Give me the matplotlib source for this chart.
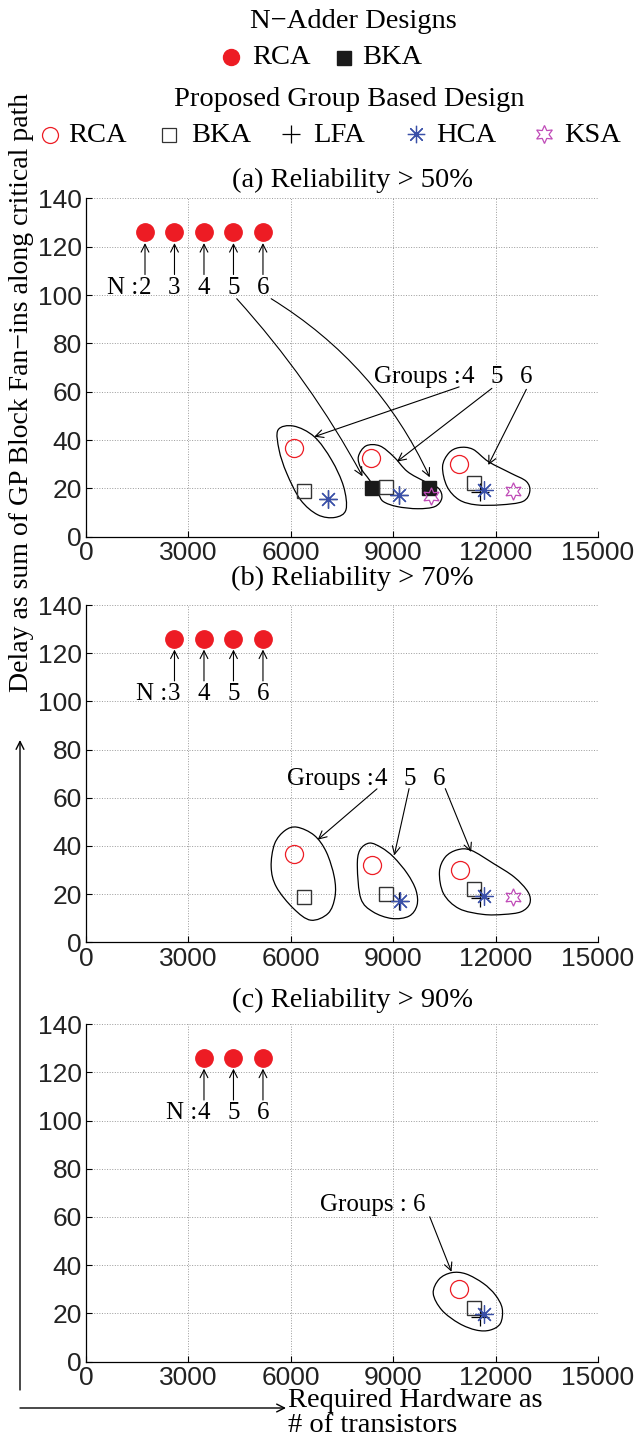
import numpy as np
import matplotlib
matplotlib.use("Agg")
from matplotlib import pyplot as plt
from matplotlib.path import Path
from matplotlib.patches import PathPatch

serif = "Liberation Serif"
sans = "Liberation Sans"
red = "#ed1c24"
blue = "#3a50a8"
mag = "#c04cb8"

# ---- (a) Reliability > 50% ----
nrca_n_a = ["2", "3", "4", "5", "6"]
nrca_x_a = [1728, 2592, 3456, 4320, 5184]
nrca_y_a = [126, 126, 126, 126, 126]
nbka_x_a = [8384, 10056]
nbka_y_a = [20, 20]
grca_x_a = [6095, 8360, 10930]
grca_y_a = [36.8, 32.5, 30.0]
gbka_x_a = [6375, 8780, 11355]
gbka_y_a = [19.0, 20.6, 22.2]
glfa_x_a = [7090, 9165, 11535]
glfa_y_a = [15.6, 17.2, 18.7]
ghca_x_a = [7090, 9165, 11660]
ghca_y_a = [15.6, 17.2, 19.4]
gksa_x_a = [10120, 12515]
gksa_y_a = [16.9, 18.8]

# ---- (b) Reliability > 70% ----
nrca_n_b = ["3", "4", "5", "6"]
nrca_x_b = [2592, 3456, 4320, 5184]
nrca_y_b = [126, 126, 126, 126]
grca_x_b = [6100, 8370, 10945]
grca_y_b = [36.6, 32.2, 29.9]
gbka_x_b = [6385, 8785, 11370]
gbka_y_b = [18.7, 20.2, 22.0]
glfa_x_b = [9165, 11535]
glfa_y_b = [17.0, 18.4]
ghca_x_b = [9190, 11660]
ghca_y_b = [17.2, 19.3]
gksa_x_b = [12515]
gksa_y_b = [18.9]

# ---- (c) Reliability > 90% ----
nrca_n_c = ["4", "5", "6"]
nrca_x_c = [3456, 4320, 5184]
nrca_y_c = [126, 126, 126]
grca_x_c = [10930]
grca_y_c = [30.1]
gbka_x_c = [11355]
gbka_y_c = [22.1]
glfa_x_c = [11535]
glfa_y_c = [18.6]
ghca_x_c = [11660]
ghca_y_c = [19.8]

# hand drawn group outlines (data coords)
blobs_a = [
    [(5626, 44.2), (6081, 45.8), (6687, 41.4), (7192, 31.8), (7545, 20.8), (7616, 11.2),
     (7293, 8.0), (6788, 9.1), (6283, 15.3), (5879, 26.3), (5657, 35.9)],
    [(7980, 33.2), (8202, 37.6), (8606, 37.6), (9010, 33.2), (9414, 27.0), (9919, 22.9),
     (10323, 20.1), (10424, 16.0), (10222, 12.5), (9717, 11.6), (9111, 12.5), (8707, 14.6),
     (8556, 18.0), (8303, 23.5), (8051, 28.4)],
    [(10445, 29.0), (10626, 34.6), (10929, 36.9), (11333, 36.2), (11788, 31.1), (12444, 26.3),
     (12899, 22.9), (13000, 18.7), (12798, 14.6), (12141, 13.2), (11434, 13.2), (10929, 15.3),
     (10576, 20.8)],
]
blobs_b = [
    [(5424, 31.3), (5525, 40.9), (5828, 46.4), (6182, 47.8), (6687, 44.4), (7040, 37.5),
     (7273, 27.1), (7293, 18.9), (7091, 12.0), (6586, 9.2), (6081, 14.0), (5576, 23.0)],
    [(7949, 31.3), (8020, 38.2), (8303, 41.2), (8657, 39.3), (9010, 35.4), (9414, 28.5),
     (9667, 21.6), (9697, 15.4), (9465, 10.9), (8960, 9.9), (8404, 12.7), (8051, 18.2)],
    [(10354, 29.2), (10525, 35.4), (10879, 38.4), (11283, 38.2), (11939, 32.7), (12545, 27.1),
     (12949, 20.9), (13000, 16.1), (12747, 12.7), (12242, 11.6), (11636, 11.6), (10929, 14.0),
     (10475, 20.2)],
]
blobs_c = [
    [(10172, 28.3), (10343, 34.2), (10707, 36.9), (11131, 36.4), (11636, 32.5), (11990, 27.7),
     (12192, 22.1), (12141, 15.9), (11838, 13.1), (11434, 13.1), (10929, 15.9), (10424, 21.4)],
]

W, H = 639, 1446
fig = plt.figure(figsize=(W / 100, H / 100), dpi=100)

# overlay in pixel coords for the shared texts
ov = fig.add_axes([0, 0, 1, 1])
ov.set_xlim(0, W)
ov.set_ylim(H, 0)
ov.axis("off")

fs = 20.5
ov.text(353, 22, "N\u2212Adder Designs", ha="center", va="center", fontsize=fs, family=serif)
ov.plot(231, 57, "o", ms=11.5, color=red, mec=red)
ov.text(252, 57, "RCA", ha="left", va="center", fontsize=fs, family=serif)
ov.plot(344, 58, "s", ms=9.5, color="#1a1a1a", mec="#1a1a1a")
ov.text(362, 57, "BKA", ha="left", va="center", fontsize=fs, family=serif)
ov.text(349, 99, "Proposed Group Based Design", ha="center", va="center", fontsize=fs, family=serif)
ov.plot(50, 135, "o", ms=11.5, mfc="none", mec=red, mew=0.9)
ov.text(68, 135, "RCA", ha="left", va="center", fontsize=fs, family=serif)
ov.plot(169, 135, "s", ms=9.5, mfc="none", mec="#333333", mew=0.9)
ov.text(191, 135, "BKA", ha="left", va="center", fontsize=fs, family=serif)
ov.plot(291, 134, "+", ms=13, color="k", mew=0.9)
ov.text(313, 135, "LFA", ha="left", va="center", fontsize=fs, family=serif)
ov.plot(416, 134, marker=(8, 2, 0), ms=12.5, color=blue, mew=0.9)
ov.text(436, 135, "HCA", ha="left", va="center", fontsize=fs, family=serif)
ov.plot(544, 134, marker=(6, 1, 0), ms=13, mfc="none", mec=mag, mew=0.9)
ov.text(564, 135, "KSA", ha="left", va="center", fontsize=fs, family=serif)

ov.text(22, 393, "Delay as sum of GP Block Fan\u2212ins along critical path", rotation=90,
        ha="center", va="center", fontsize=20, family=serif)
ov.annotate("", xy=(20, 740), xytext=(20, 1390),
            arrowprops=dict(arrowstyle="->", lw=1.0, color="k", shrinkA=0, shrinkB=0, mutation_scale=14))
ov.annotate("", xy=(286, 1408), xytext=(20, 1408),
            arrowprops=dict(arrowstyle="->", lw=1.0, color="k", shrinkA=0, shrinkB=0, mutation_scale=14))
ov.text(288, 1413, "Required Hardware as\n# of transistors", ha="left", va="center",
        fontsize=fs, family=serif, linespacing=1.05)

titles = ["(a) Reliability > 50%", "(b) Reliability > 70%", "(c) Reliability > 90%"]
title_y = [180, 578, 1000]
for t, y in zip(titles, title_y):
    ov.text(352, y, t, ha="center", va="center", fontsize=fs, family=serif)


def blob(ax, pts):
    p = np.array(pts, float)
    n = len(p)
    verts = [p[0]]
    codes = [Path.MOVETO]
    for i in range(n):
        p0, p1, p2, p3 = p[i - 1], p[i], p[(i + 1) % n], p[(i + 2) % n]
        verts += [p1 + (p2 - p0) / 6, p2 - (p3 - p1) / 6, p2]
        codes += [Path.CURVE4] * 3
    ax.add_patch(PathPatch(Path(verts, codes), fill=False, lw=0.9, ec="k", zorder=2))


def arrow(ax, start, tip, rad=0.0):
    ax.annotate("", xy=tip, xytext=start,
                arrowprops=dict(arrowstyle="->", lw=0.8, color="k", shrinkA=0, shrinkB=0,
                                mutation_scale=14, connectionstyle="arc3,rad=%s" % rad))


def setup(ax):
    ax.set_xlim(0, 15000)
    ax.set_ylim(0, 140)
    ax.set_xticks(range(0, 15001, 3000))
    ax.set_yticks(range(0, 141, 20))
    ax.grid(True, linestyle=":", color="#9a9a9a", lw=0.7)
    ax.set_axisbelow(True)
    for s in ["top", "right"]:
        ax.spines[s].set_visible(False)
    for s in ["left", "bottom"]:
        ax.spines[s].set_linewidth(0.9)
    ax.tick_params(direction="in", length=4, width=0.8, pad=3, labelsize=19)
    for lab in ax.get_xticklabels() + ax.get_yticklabels():
        lab.set_family(sans)
        lab.set_color("#222222")
    ax.set_facecolor("none")


def n_labels(ax, xs, ys, names):
    for x, y, nm in zip(xs, ys, names):
        ax.text(x, 103, nm, ha="center", va="center", fontsize=18, family=serif)
        arrow(ax, (x, 108.5), (x, y - 4.5))
    ax.annotate("N :", (xs[0], 103), xytext=(-5, 0), textcoords="offset points",
                ha="right", va="center", fontsize=18, family=serif)


def points(ax, nrx, nry, nbx, nby, rx, ry, bx, by, lx, ly, hx, hy, kx, ky):
    ax.plot(nrx, nry, "o", ms=12.5, color=red, mec=red, ls="none", zorder=4)
    if nbx:
        ax.plot(nbx, nby, "s", ms=9.6, color="#1a1a1a", mec="#1a1a1a", ls="none", zorder=4)
    ax.plot(rx, ry, "o", ms=13, mfc="none", mec=red, mew=0.9, ls="none", zorder=4)
    ax.plot(bx, by, "s", ms=10.5, mfc="none", mec="#333333", mew=1.0, ls="none", zorder=4)
    ax.plot(lx, ly, "+", ms=13, color="k", mew=0.9, ls="none", zorder=4)
    ax.plot(hx, hy, marker=(8, 2, 0), ms=13, color=blue, mew=0.9, ls="none", zorder=5)
    if kx:
        ax.plot(kx, ky, marker=(6, 1, 0), ms=12.5, mfc="none", mec=mag, mew=0.9, ls="none", zorder=5)


axa = fig.add_axes([0.1346, 0.6288, 0.8013, 0.2340])
axb = fig.add_axes([0.1346, 0.3483, 0.8013, 0.2333])
axc = fig.add_axes([0.1346, 0.0583, 0.8013, 0.2335])

# (a)
setup(axa)
points(axa, nrca_x_a, nrca_y_a, nbka_x_a, nbka_y_a, grca_x_a, grca_y_a, gbka_x_a, gbka_y_a,
       glfa_x_a, glfa_y_a, ghca_x_a, ghca_y_a, gksa_x_a, gksa_y_a)
for b in blobs_a:
    blob(axa, b)
n_labels(axa, nrca_x_a, nrca_y_a, nrca_n_a)
arrow(axa, (4415, 98.5), (8100, 25), rad=-0.06)
arrow(axa, (5424, 98.5), (10070, 24.6), rad=-0.15)
for x, nm in zip([11180, 12040, 12900], ["4", "5", "6"]):
    axa.text(x, 66, nm, ha="center", va="center", fontsize=18, family=serif)
axa.annotate("Groups :", (11180, 66), xytext=(-5, 0), textcoords="offset points",
             ha="right", va="center", fontsize=18, family=serif)
arrow(axa, (10930, 62), (6688, 41.4))
arrow(axa, (11890, 61.4), (9112, 31.1))
arrow(axa, (12900, 61), (11785, 29.7))

# (b)
setup(axb)
points(axb, nrca_x_b, nrca_y_b, [], [], grca_x_b, grca_y_b, gbka_x_b, gbka_y_b,
       glfa_x_b, glfa_y_b, ghca_x_b, ghca_y_b, gksa_x_b, gksa_y_b)
for b in blobs_b:
    blob(axb, b)
n_labels(axb, nrca_x_b, nrca_y_b, nrca_n_b)
for x, nm in zip([8626, 9494, 10353], ["4", "5", "6"]):
    axb.text(x, 67.8, nm, ha="center", va="center", fontsize=18, family=serif)
axb.annotate("Groups :", (8626, 67.8), xytext=(-5, 0), textcoords="offset points",
             ha="right", va="center", fontsize=18, family=serif)
arrow(axb, (8524, 63.7), (6788, 42.6))
arrow(axb, (9464, 63.8), (9030, 36.1))
arrow(axb, (10525, 63.8), (11282, 37.5))

# (c)
setup(axc)
points(axc, nrca_x_c, nrca_y_c, [], [], grca_x_c, grca_y_c, gbka_x_c, gbka_y_c,
       glfa_x_c, glfa_y_c, ghca_x_c, ghca_y_c, [], [])
for b in blobs_c:
    blob(axc, b)
n_labels(axc, nrca_x_c, nrca_y_c, nrca_n_c)
axc.text(9950, 65, "Groups : 6", ha="right", va="center", fontsize=18, family=serif)
arrow(axc, (10070, 60.1), (10707, 37.3))

fig.savefig("out.png", dpi=100)
